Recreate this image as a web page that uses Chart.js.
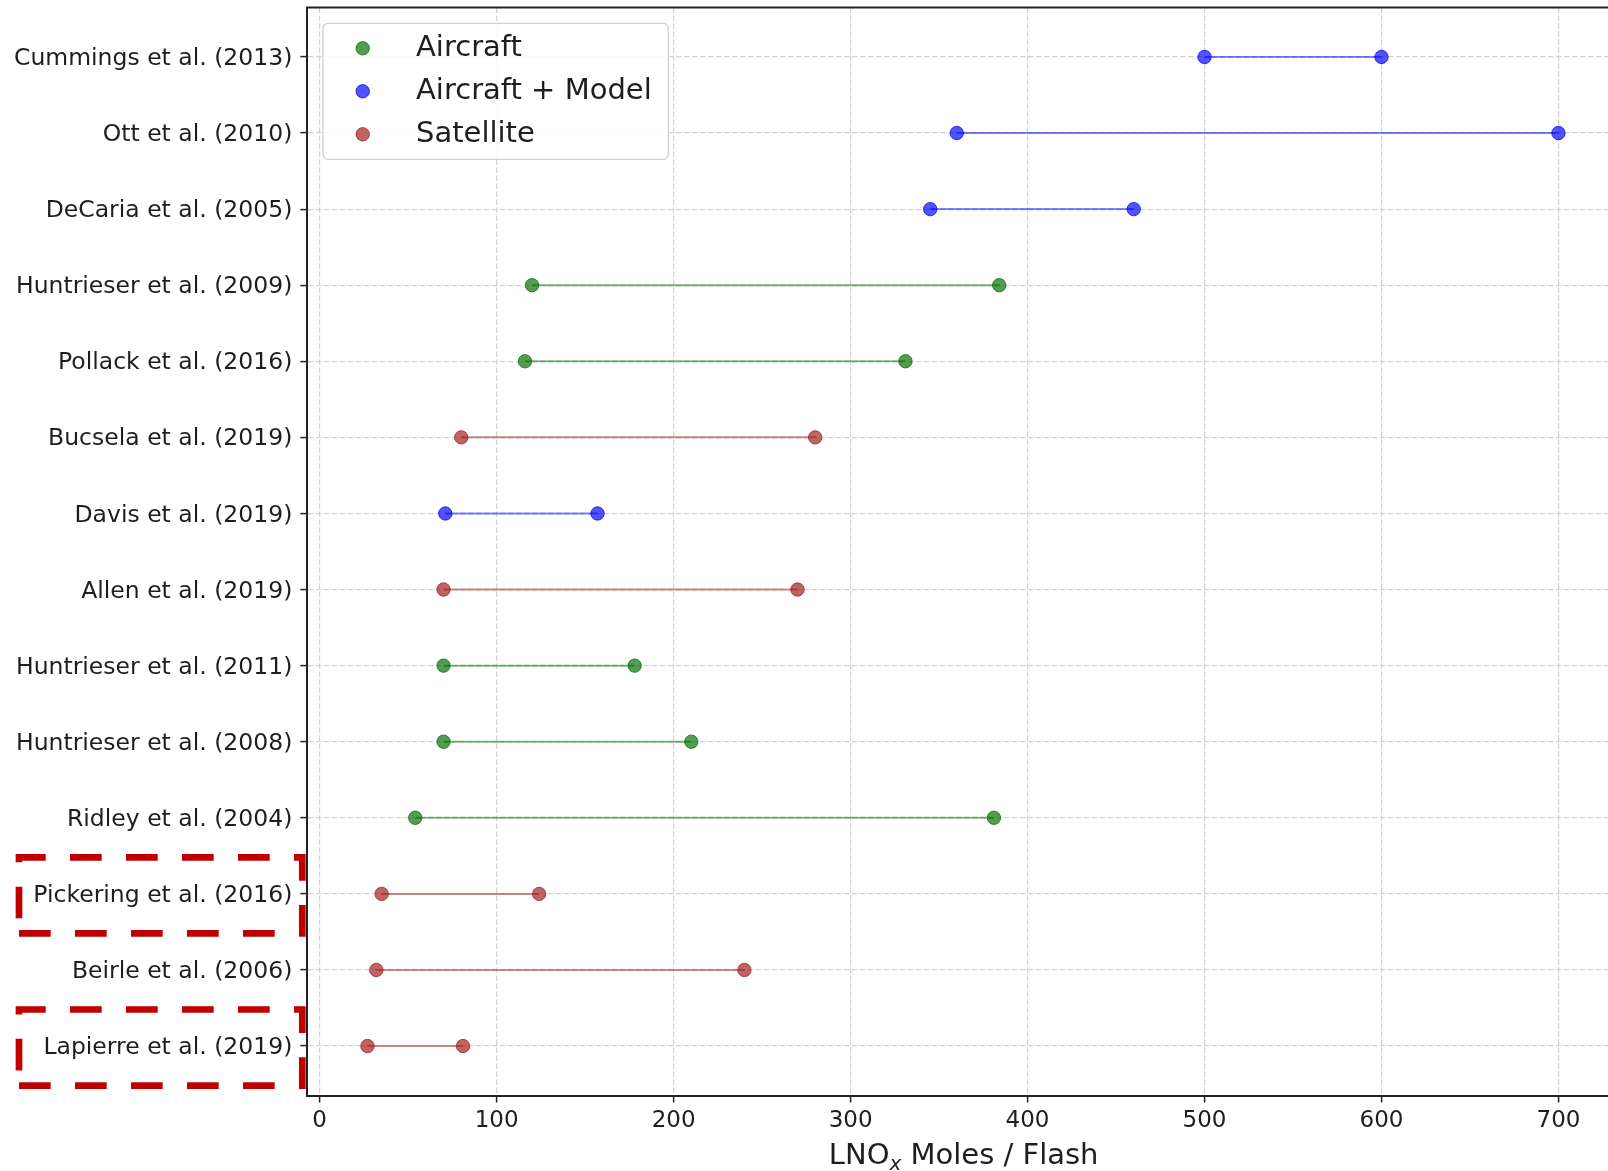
<!DOCTYPE html>
<html>
<head>
<meta charset="utf-8">
<script src="https://cdn.jsdelivr.net/npm/chart.js@4.4.1/dist/chart.umd.min.js"></script>
<style>
  html, body { margin: 0; padding: 0; background: #fff; overflow: hidden; }
  #wrap { width: 1608px; height: 1171px; }
</style>
</head>
<body>
<div id="wrap"><canvas id="lnoxChart" width="1608" height="1171"></canvas></div>
<script>
// values (moles per flash, low and high end of each range)
const studies = ['Cummings et al. (2013)', 'Ott et al. (2010)', 'DeCaria et al. (2005)', 'Huntrieser et al. (2009)',
  'Pollack et al. (2016)', 'Bucsela et al. (2019)', 'Davis et al. (2019)', 'Allen et al. (2019)',
  'Huntrieser et al. (2011)', 'Huntrieser et al. (2008)', 'Ridley et al. (2004)', 'Pickering et al. (2016)',
  'Beirle et al. (2006)', 'Lapierre et al. (2019)'];
const lowValues = [500, 360, 345, 120, 116, 80, 71, 70, 70, 70, 54, 35, 32, 27];
const highValues = [600, 700, 460, 384, 331, 280, 157, 270, 178, 210, 381, 124, 240, 81];
const methods = ['Aircraft + Model', 'Aircraft + Model', 'Aircraft + Model', 'Aircraft', 'Aircraft', 'Satellite',
  'Aircraft + Model', 'Satellite', 'Aircraft', 'Aircraft', 'Aircraft', 'Satellite', 'Satellite', 'Satellite'];
const methodNames = ['Aircraft', 'Aircraft + Model', 'Satellite'];
const xTicks = [0, 100, 200, 300, 400, 500, 600, 700];
const highlighted = ['Pickering et al. (2016)', 'Lapierre et al. (2019)'];

const methodRGB = { 'Aircraft': '0,110,0', 'Aircraft + Model': '0,0,255', 'Satellite': '160,25,25' };
const rgba = (m, a) => 'rgba(' + methodRGB[m] + ',' + a + ')';

const FONT = 'DejaVu Sans';
const TEXT = '#1e1e1e';

const datasets = studies.map((name, i) => ({
  label: name,
  data: [{ x: lowValues[i], y: i }, { x: highValues[i], y: i }],
  showLine: true,
  borderColor: rgba(methods[i], 0.5),
  borderWidth: 2,
  pointRadius: 6.7,
  pointBackgroundColor: rgba(methods[i], 0.68),
  pointBorderColor: rgba(methods[i], 0.75),
  pointBorderWidth: 1
}));

const gridStyle = { color: '#d2d2d2', lineWidth: 1.2, tickLength: 7, tickColor: '#222', tickWidth: 1.5 };
const borderStyle = { color: '#222', width: 2, dash: [5.5, 2.5] };

const extras = {
  id: 'extras',
  afterDraw(chart) {
    const ctx = chart.ctx;
    const area = chart.chartArea;
    const yScale = chart.scales.y;

    // top spine
    ctx.save();
    ctx.strokeStyle = '#222';
    ctx.lineWidth = 2;
    ctx.beginPath();
    ctx.moveTo(area.left - 1, area.top);
    ctx.lineTo(area.right, area.top);
    ctx.stroke();
    ctx.restore();

    // legend
    const lx = 323, ly = 23.3, lw = 345.3, lh = 136, r = 5;
    ctx.save();
    ctx.beginPath();
    ctx.moveTo(lx + r, ly);
    ctx.lineTo(lx + lw - r, ly);
    ctx.arcTo(lx + lw, ly, lx + lw, ly + r, r);
    ctx.lineTo(lx + lw, ly + lh - r);
    ctx.arcTo(lx + lw, ly + lh, lx + lw - r, ly + lh, r);
    ctx.lineTo(lx + r, ly + lh);
    ctx.arcTo(lx, ly + lh, lx, ly + lh - r, r);
    ctx.lineTo(lx, ly + r);
    ctx.arcTo(lx, ly, lx + r, ly, r);
    ctx.closePath();
    ctx.fillStyle = 'rgba(255,255,255,0.85)';
    ctx.fill();
    ctx.strokeStyle = '#d0d0d0';
    ctx.lineWidth = 1.3;
    ctx.stroke();
    ctx.font = '29px "' + FONT + '"';
    ctx.textBaseline = 'alphabetic';
    methodNames.forEach((m, i) => {
      const cy = 48.3 + i * 43;
      ctx.beginPath();
      ctx.arc(362.7, cy, 6.7, 0, Math.PI * 2);
      ctx.fillStyle = rgba(m, 0.68);
      ctx.fill();
      ctx.strokeStyle = rgba(m, 0.75);
      ctx.lineWidth = 1;
      ctx.stroke();
      ctx.fillStyle = TEXT;
      ctx.fillText(m, 416, cy + 7.5);
    });
    ctx.restore();

    // x axis title with subscript
    ctx.save();
    ctx.fillStyle = TEXT;
    ctx.textBaseline = 'alphabetic';
    const big = '29px "' + FONT + '"', small = 'italic 20px "' + FONT + '"';
    ctx.font = big;
    const w1 = ctx.measureText('LNO').width;
    const w3 = ctx.measureText(' Moles / Flash').width;
    ctx.font = small;
    const w2 = ctx.measureText('x').width;
    const cx = (area.left + area.right) / 2 + 6;
    const x0 = cx - (w1 + w2 + w3) / 2;
    const base = 1164;
    ctx.font = big;
    ctx.fillText('LNO', x0, base);
    ctx.font = small;
    ctx.fillText('x', x0 + w1, base + 6);
    ctx.font = big;
    ctx.fillText(' Moles / Flash', x0 + w1 + w2, base);
    ctx.restore();

    // red dashed boxes around highlighted labels
    ctx.save();
    ctx.strokeStyle = '#c00000';
    ctx.lineWidth = 6.7;
    ctx.setLineDash([31.7, 24.3]);
    highlighted.forEach(name => {
      const idx = studies.indexOf(name);
      const top = yScale.getPixelForValue(idx - 0.5) + 1.5;
      const bottom = yScale.getPixelForValue(idx + 0.5) + 1.5;
      const left = 19, right = area.left - 5;
      ctx.beginPath();
      ctx.moveTo(left, bottom);
      ctx.lineTo(right, bottom);
      ctx.lineTo(right, top);
      ctx.lineTo(left, top);
      ctx.closePath();
      ctx.stroke();
    });
    ctx.restore();
  }
};

new Chart(document.getElementById('lnoxChart'), {
  type: 'scatter',
  data: { datasets: datasets },
  options: {
    responsive: false,
    animation: false,
    layout: { autoPadding: false, padding: { top: 7.5, left: 0, right: 0, bottom: 0 } },
    plugins: {
      legend: { display: false },
      tooltip: { enabled: false }
    },
    scales: {
      x: {
        type: 'linear',
        min: -7,
        max: 728,
        afterBuildTicks: s => { s.ticks = xTicks.map(v => ({ value: v })); },
        afterFit: s => { s.height = 75.5; s.paddingLeft = 0; s.paddingRight = 0; },
        grid: gridStyle,
        border: borderStyle,
        ticks: { font: { family: FONT, size: 23 }, color: TEXT, padding: 5, maxRotation: 0, autoSkip: false }
      },
      y: {
        type: 'linear',
        reverse: true,
        min: -0.65,
        max: 13.65,
        afterBuildTicks: s => { s.ticks = studies.map((_, i) => ({ value: i })); },
        afterFit: s => { s.width = 307.3; s.paddingTop = 0; s.paddingBottom = 0; },
        grid: gridStyle,
        border: borderStyle,
        ticks: {
          callback: v => studies[v],
          font: { family: FONT, size: 23.5 },
          color: TEXT,
          padding: 8,
          labelOffset: 2,
          autoSkip: false
        }
      }
    }
  },
  plugins: [extras]
});
</script>
</body>
</html>
